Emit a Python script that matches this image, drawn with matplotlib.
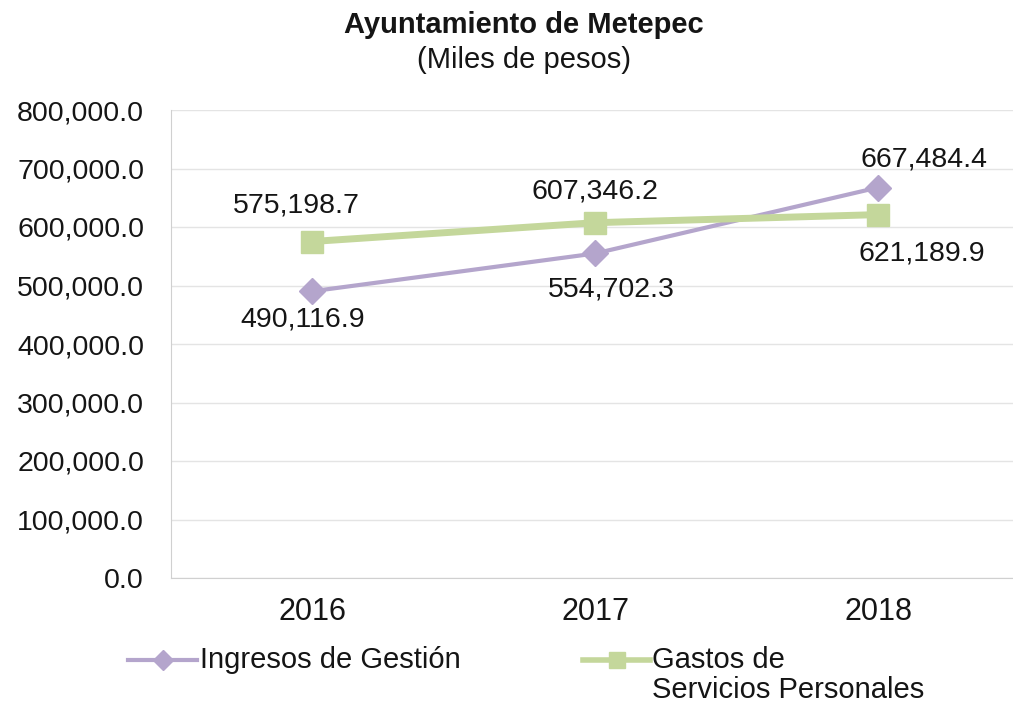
import matplotlib
matplotlib.use("Agg")
import matplotlib.pyplot as plt
from matplotlib.ticker import FuncFormatter
from matplotlib.lines import Line2D

plt.rcParams['font.family'] = ['Liberation Sans', 'DejaVu Sans']

years = ['2016', '2017', '2018']
ingresos = [490116.9, 554702.3, 667484.4]
gastos = [575198.7, 607346.2, 621189.9]
yticks = [0, 100000, 200000, 300000, 400000, 500000, 600000, 700000, 800000]

purple = '#B4A5CC'
green = '#C4D79B'
txt = '#151515'

W, H = 1013, 702
fig = plt.figure(figsize=(W / 100, H / 100), dpi=100)
ax = fig.add_axes([170.5 / W, (H - 578) / H, 849 / W, 468 / H])

x = list(range(len(years)))
ax.plot(x, ingresos, color=purple, lw=3, marker='D', ms=13, mec=purple, mfc=purple, zorder=3)
ax.plot(x, gastos, color=green, lw=5, marker='s', ms=16, mec=green, mfc=green, zorder=3)

ax.set_xlim(-0.5, 2.5)
ax.set_ylim(0, 800000)
ax.set_yticks(yticks)
ax.yaxis.set_major_formatter(FuncFormatter(lambda v, p: f"{v:,.1f}"))
ax.set_xticks(x)
ax.set_xticklabels(years)
ax.tick_params(axis='both', length=0, colors=txt)
ax.tick_params(axis='y', pad=19, labelsize=20.5)
ax.tick_params(axis='x', pad=14, labelsize=22)
ax.grid(axis='y', color='#E4E4E4', lw=1)
ax.set_axisbelow(True)
for s in ['top', 'right']:
    ax.spines[s].set_visible(False)
for s in ['left', 'bottom']:
    ax.spines[s].set_color('#D0D0D0')

fs = 20.5
# label offsets in pixels (dx, dy) relative to the marker
ing_off = [(-9, -28), (16, -36), (46, 28)]
gas_off = [(-16, 36), (0, 31), (44, -39)]
for i in x:
    ax.annotate(f"{ingresos[i]:,.1f}", (i, ingresos[i]), xytext=ing_off[i],
                textcoords='offset pixels', ha='center', va='center',
                fontsize=fs, color=txt)
    ax.annotate(f"{gastos[i]:,.1f}", (i, gastos[i]), xytext=gas_off[i],
                textcoords='offset pixels', ha='center', va='center',
                fontsize=fs, color=txt)

fig.text(0.517, (H - 25) / H, 'Ayuntamiento de Metepec', ha='center', va='center',
         fontsize=21, fontweight='bold', color=txt)
fig.text(0.517, (H - 60) / H, '(Miles de pesos)', ha='center', va='center',
         fontsize=21, color=txt)

# legend (drawn manually to match the layout)
ly = (H - 660) / H
fig.add_artist(Line2D([128 / W, 197 / W], [ly, ly], color=purple, lw=3))
fig.add_artist(Line2D([162.5 / W], [ly], color=purple, marker='D', ms=10,
                      mec=purple, mfc=purple))
fig.text(200 / W, ly, 'Ingresos de Gestión', ha='left', va='center',
         fontsize=21, color=txt)
fig.add_artist(Line2D([583 / W, 650 / W], [ly, ly], color=green, lw=4))
fig.add_artist(Line2D([616.5 / W], [ly], color=green, marker='s', ms=12,
                      mec=green, mfc=green))
fig.text(652 / W, ly, 'Gastos de', ha='left', va='center', fontsize=21, color=txt)
fig.text(652 / W, (H - 690) / H, 'Servicios Personales', ha='left', va='center',
         fontsize=21, color=txt)

fig.savefig('out.png', dpi=100, facecolor='white')
